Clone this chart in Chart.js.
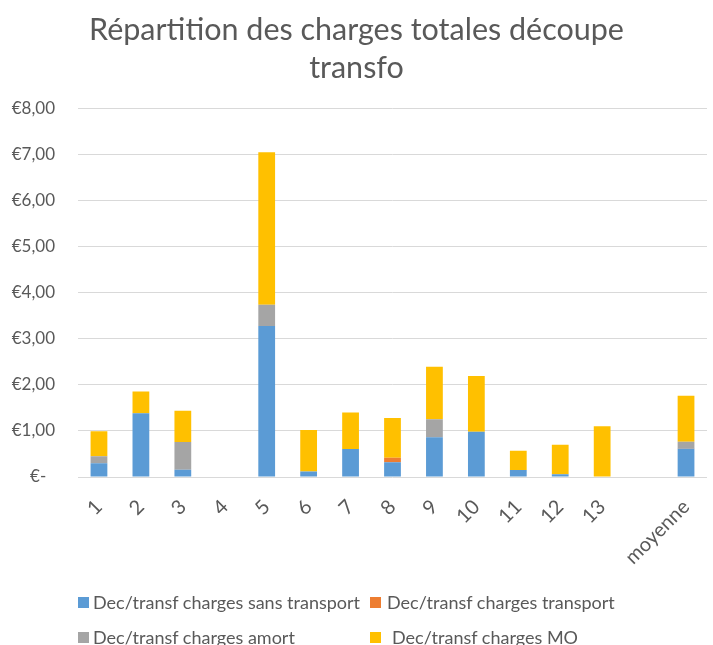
<!DOCTYPE html>
<html>
<head>
<meta charset="utf-8">
<script src="https://cdn.jsdelivr.net/npm/chart.js@4/dist/chart.umd.min.js"></script>
<style>
  body { margin: 0; background: #fff; }
  #wrap { position: relative; width: 713px; height: 645px; }
  #legend { position: absolute; left: 0; top: 0; width: 713px; font-family: Lato, "Open Sans", sans-serif; font-size: 18px; color: #595959; }
  .item { position: absolute; white-space: nowrap; line-height: 22px; }
  .box { position: absolute; width: 11px; height: 11px; top: 6px; }
</style>
</head>
<body>
<div id="wrap">
  <canvas id="chart" width="713" height="645"></canvas>
  <div id="legend"></div>
</div>
<script>
const categories = ['1', '2', '3', '4', '5', '6', '7', '8', '9', '10', '11', '12', '13', '', 'moyenne'];
const seriesNames = [
  'Dec/transf charges sans transport',
  'Dec/transf charges transport',
  'Dec/transf charges amort',
  'Dec/transf charges MO'
];
const sansTransport = [0.30, 1.385, 0.16, 0, 3.275, 0.12, 0.61, 0.32, 0.865, 0.98, 0.15, 0.06, 0, null, 0.62];
const transport = [0, 0, 0, 0, 0, 0, 0, 0.10, 0, 0, 0, 0, 0, null, 0.01];
const amort = [0.15, 0, 0.60, 0, 0.46, 0, 0, 0, 0.39, 0, 0, 0, 0, null, 0.135];
const mo = [0.54, 0.47, 0.675, 0, 3.31, 0.90, 0.79, 0.86, 1.135, 1.21, 0.42, 0.64, 1.10, null, 1.0];
const colors = ['#5B9BD5', '#ED7D31', '#A5A5A5', '#FFC000'];
const yTicks = [0, 1, 2, 3, 4, 5, 6, 7, 8];

const font = 'Lato, "Open Sans", sans-serif';
const grey = '#595959';

const datasets = [sansTransport, transport, amort, mo].map((d, i) => ({
  label: seriesNames[i],
  data: d,
  backgroundColor: colors[i],
  barPercentage: 0.4,
  categoryPercentage: 1
}));

new Chart(document.getElementById('chart'), {
  type: 'bar',
  data: { labels: categories, datasets: datasets },
  options: {
    responsive: false,
    animation: false,
    layout: { padding: { top: 0, right: 0, bottom: 65, left: 0 } },
    plugins: {
      legend: { display: false },
      tooltip: { enabled: false },
      title: {
        display: true,
        text: ['Répartition des charges totales découpe', 'transfo'],
        color: grey,
        font: { family: font, size: 30.5, weight: 'normal', lineHeight: 1.25 },
        padding: { top: 11, bottom: 21 }
      }
    },
    scales: {
      x: {
        stacked: true,
        grid: { display: false },
        border: { display: false },
        ticks: {
          color: grey,
          font: { family: font, size: 20 },
          minRotation: 45,
          maxRotation: 45,
          padding: 10
        },
        afterFit: s => { s.height = 103; }
      },
      y: {
        stacked: true,
        min: 0,
        max: 8,
        afterBuildTicks: s => { s.ticks = yTicks.map(v => ({ value: v })); },
        grid: { color: '#d9d9d9', lineWidth: 1, drawTicks: false },
        border: { display: false },
        ticks: {
          color: grey,
          font: { family: font, size: 17 },
          padding: 23,
          callback: v => v === 0 ? '€-  ' : '€' + v.toFixed(2).replace('.', ',')
        },
        afterFit: s => { s.width = 78; }
      }
    }
  }
});

// legend laid out in two columns like the original
const boxX = [78, 370, 78, 370];
const textX = [93, 387, 93, 392];
const rowY = [591, 591, 626, 626];
const legend = document.getElementById('legend');
seriesNames.forEach((name, i) => {
  const box = document.createElement('div');
  box.className = 'box';
  box.style.left = boxX[i] + 'px';
  box.style.top = (rowY[i] + 6) + 'px';
  box.style.background = colors[i];
  legend.appendChild(box);
  const el = document.createElement('div');
  el.className = 'item';
  el.style.left = textX[i] + 'px';
  el.style.top = rowY[i] + 'px';
  el.textContent = name;
  legend.appendChild(el);
});
</script>
</body>
</html>
